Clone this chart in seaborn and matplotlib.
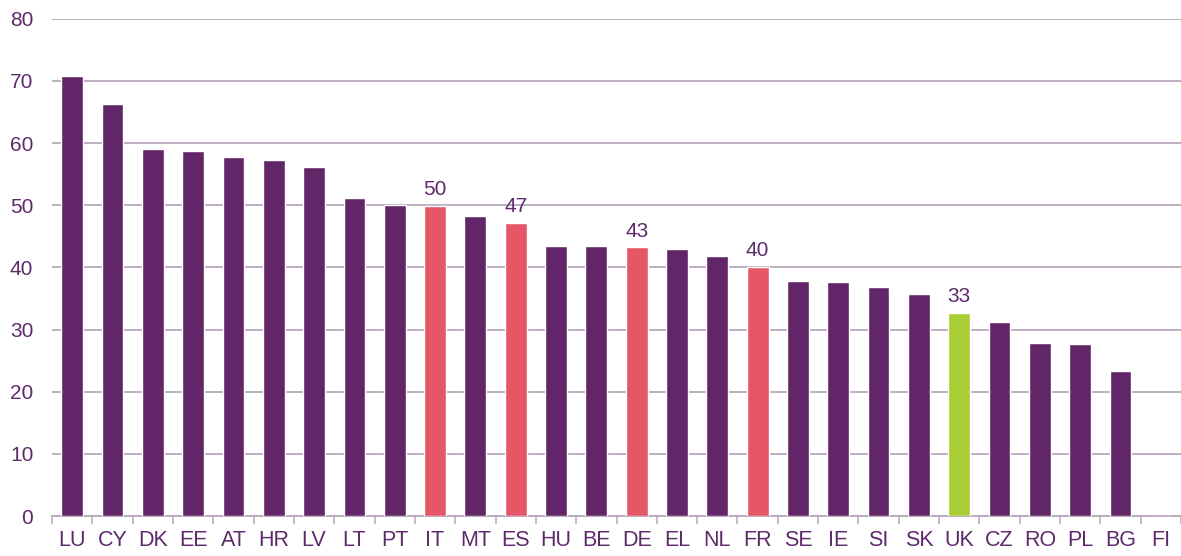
import matplotlib
matplotlib.use('Agg')
import matplotlib.pyplot as plt
import pandas as pd
import seaborn as sns
from matplotlib.ticker import FixedLocator, NullFormatter

# country codes and values
countries = ['LU', 'CY', 'DK', 'EE', 'AT', 'HR', 'LV', 'LT', 'PT', 'IT',
             'MT', 'ES', 'HU', 'BE', 'DE', 'EL', 'NL', 'FR', 'SE', 'IE',
             'SI', 'SK', 'UK', 'CZ', 'RO', 'PL', 'BG', 'FI']
values = [70.8, 66.2, 59.1, 58.7, 57.8, 57.3, 56.1, 51.1, 50.1, 49.9,
          48.3, 47.2, 43.4, 43.4, 43.2, 42.9, 41.9, 40.1, 37.8, 37.7,
          36.9, 35.7, 32.6, 31.2, 27.9, 27.7, 23.4, 0.0]
highlight_big = ['IT', 'ES', 'DE', 'FR']
highlight_uk = ['UK']
yticks = [0, 10, 20, 30, 40, 50, 60, 70, 80]

purple = '#622567'
red = '#E55767'
green = '#A8CD37'
text_color = '#5E2A6B'
grid_color = '#B9A7BC'

df = pd.DataFrame({'country': countries, 'value': values})
palette = {}
for c in countries:
    if c in highlight_big:
        palette[c] = red
    elif c in highlight_uk:
        palette[c] = green
    else:
        palette[c] = purple

sns.set_style('white')
plt.rcParams['font.family'] = ['Liberation Sans', 'DejaVu Sans']

fig, ax = plt.subplots(figsize=(11.81, 5.56), dpi=100)
fig.subplots_adjust(left=52 / 1181, right=1.0, top=1 - 18.7 / 556,
                    bottom=1 - 516 / 556)

sns.barplot(data=df, x='country', y='value', hue='country', palette=palette,
            width=0.54, legend=False, ax=ax, saturation=1, zorder=3)

# value labels above the highlighted bars
for i, (c, v) in enumerate(zip(countries, values)):
    if c in highlight_big or c in highlight_uk:
        ax.annotate(f'{v:.0f}', xy=(i, v), xytext=(0, 5),
                    textcoords='offset points', ha='center', va='bottom',
                    fontsize=15, color=text_color)

ax.set_ylim(0, 80)
ax.set_xlim(-0.5, len(countries) - 0.5)
ax.set_yticks(yticks)
ax.yaxis.grid(True, color=grid_color, linewidth=1.3, zorder=0)
ax.set_axisbelow(True)
ax.set_xlabel('')
ax.set_ylabel('')

for side in ['top', 'right', 'left']:
    ax.spines[side].set_visible(False)
ax.spines['bottom'].set_color(grid_color)
ax.spines['bottom'].set_linewidth(1.3)

ax.tick_params(axis='y', length=0, pad=13.5, labelsize=15, labelcolor=text_color)
ax.tick_params(axis='x', which='major', length=0, pad=10, labelsize=15.5,
               labelcolor=text_color)
ax.xaxis.set_minor_locator(FixedLocator([i - 0.5 for i in range(len(countries) + 1)]))
ax.xaxis.set_minor_formatter(NullFormatter())
ax.tick_params(axis='x', which='minor', length=6, width=1.1, color=grid_color,
               direction='out', bottom=True)

fig.savefig('out.png', dpi=100, facecolor='white')
